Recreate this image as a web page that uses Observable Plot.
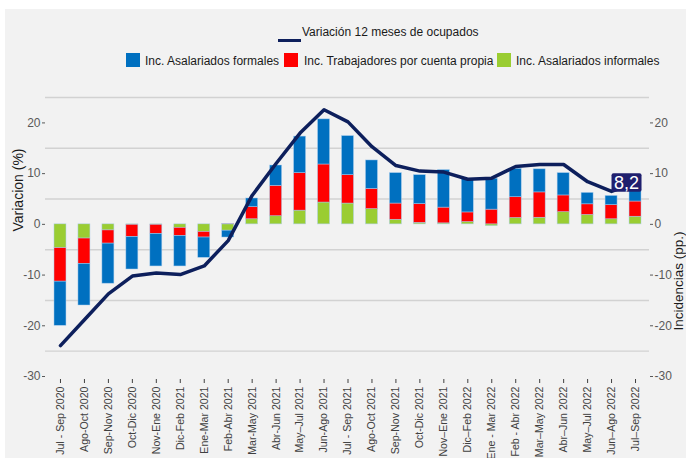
<!DOCTYPE html>
<html>
<head>
<meta charset="utf-8">
<script src="https://cdn.jsdelivr.net/npm/d3@7"></script>
<script src="https://cdn.jsdelivr.net/npm/@observablehq/plot@0.6"></script>
<style>
  html, body { margin: 0; padding: 0; background: #ffffff; }
  body { width: 686px; height: 458px; overflow: hidden; position: relative;
         font-family: "Liberation Sans", Arial, sans-serif; }
  #bg { position: absolute; left: 5px; top: 9px; right: 0; bottom: 0; background: #f2f2f2; }
  #legend { position: relative; height: 75px; font-size: 12px; color: #1a1a1a; }
  #legend .item { position: absolute; white-space: nowrap; line-height: 14px; }
  #legend .sw { position: absolute; }
  #chart { position: relative; }
</style>
</head>
<body>
<div id="bg"></div>
<div id="legend"></div>
<div id="chart"></div>
<script>
// ---- data ----
const categories = [
  "Jul - Sep 2020", "Ago-Oct 2020", "Sep-Nov 2020", "Oct-Dic 2020", "Nov-Ene 2020",
  "Dic-Feb 2021", "Ene-Mar 2021", "Feb-Abr 2021", "Mar-May 2021", "Abr-Jun 2021",
  "May\u2013Jul 2021", "Jun-Ago 2021", "Jul - Sep 2021", "Ago-Oct 2021", "Sep-Nov 2021",
  "Oct-Dic 2021", "Nov\u2013Ene 2021", "Dic\u2013Feb 2022", "Ene - Mar 2022", "Feb - Abr 2022",
  "Mar\u2013May 2022", "Abr\u2013Jun 2022", "May\u2013Jul 2022", "Jun\u2013Ago 2022", "Jul\u2013Sep 2022"
];
const informales = [-4.7, -2.8, -1.2, -0.1, -0.1, -0.7, -1.5, -1.25, 1.0, 1.6,
  2.7, 4.3, 4.1, 3.0, 0.9, 0.3, 0.2, 0.45, -0.35, 1.25, 1.3, 2.4, 1.85, 1.0, 1.5];
const cuentaPropia = [-6.6, -5.0, -2.6, -2.4, -1.8, -1.6, -1.1, 0.1, 2.4, 6.0,
  7.4, 7.5, 5.6, 4.0, 3.2, 3.7, 3.1, 1.9, 2.9, 4.1, 5.0, 3.3, 2.1, 2.8, 3.0];
const formales = [-8.7, -8.2, -7.9, -6.4, -6.4, -6.0, -4.0, -1.35, 1.7, 4.0,
  7.2, 8.9, 7.7, 5.6, 6.0, 5.7, 7.4, 6.6, 6.1, 5.6, 4.55, 4.4, 2.25, 1.8, 2.3];
const variacion = [-23.9, -18.8, -13.7, -10.2, -9.6, -9.9, -8.2, -3.2, 5.7, 12.0,
  18.0, 22.6, 20.2, 15.3, 11.6, 10.5, 10.3, 8.9, 9.1, 11.4, 11.8, 11.8, 8.4, 6.5, 8.2];
const seriesNames = ["Inc. Asalariados informales", "Inc. Trabajadores por cuenta propia", "Inc. Asalariados formales"];
const seriesColors = ["#9acd32", "#ff0000", "#0070c0"];
const lineName = "Variación 12 meses de ocupados";
const yTicks = [-30, -20, -10, 0, 10, 20];
const gridValues = [-25, -15, -5, 5, 15, 25];
const lastLabel = "8,2";

// ---- legend (HTML, above the SVG) ----
const legend = document.getElementById("legend");
legend.innerHTML = `
  <div class="sw" style="left:278px;top:39px;width:23px;height:2.5px;background:#0d1f5c"></div>
  <div class="item" style="left:302px;top:25px">${lineName}</div>
  <div class="sw" style="left:126px;top:53px;width:14px;height:14px;background:${seriesColors[2]}"></div>
  <div class="item" style="left:145px;top:54px">${seriesNames[2]}</div>
  <div class="sw" style="left:284px;top:53px;width:14px;height:14px;background:${seriesColors[1]}"></div>
  <div class="item" style="left:304px;top:54px">${seriesNames[1]}</div>
  <div class="sw" style="left:497px;top:53px;width:14px;height:14px;background:${seriesColors[0]}"></div>
  <div class="item" style="left:516px;top:54px">${seriesNames[0]}</div>
`;

// ---- tables ----
const barRows = [];
categories.forEach((c, i) => {
  barRows.push({cat: c, serie: seriesNames[0], value: informales[i]});
  barRows.push({cat: c, serie: seriesNames[1], value: cuentaPropia[i]});
  barRows.push({cat: c, serie: seriesNames[2], value: formales[i]});
});
const lineRows = categories.map((c, i) => ({cat: c, value: variacion[i]}));
const lastRow = [lineRows[lineRows.length - 1]];

const chart = Plot.plot({
  width: 686,
  height: 383,
  marginLeft: 45,
  marginRight: 37,
  marginTop: 8,
  marginBottom: 79,
  style: {background: "transparent", fontFamily: "'Liberation Sans', Arial, sans-serif", fontSize: "12px", overflow: "visible"},
  x: {domain: categories, paddingInner: 0.5, paddingOuter: 0.25, insetLeft: 3, insetRight: 2, round: false, label: null},
  y: {domain: [-30.59, 27.77], label: null},
  color: {domain: seriesNames, range: seriesColors},
  marks: [
    Plot.ruleY(gridValues, {stroke: "#d2d2d2", strokeWidth: 1.4}),
    Plot.barY(barRows, {x: "cat", y: "value", z: "serie", fill: "serie", stroke: "#a9cdee", strokeWidth: 0.6, strokeOpacity: 0.8}),
    Plot.line(lineRows, {x: "cat", y: "value", stroke: "#0d1f5c", strokeWidth: 3.5, strokeLinejoin: "round"}),
    Plot.text(lastRow, {x: "cat", y: "value", text: () => lastLabel, fill: "white", fontSize: 18, dx: -9, className: "vlabel"}),
    Plot.axisY({anchor: "left", ticks: yTicks, tickFormat: d => String(d), tickSize: 3, tickPadding: 2, line: true, label: null, color: "#595959", fontSize: 12}),
    Plot.axisY({anchor: "right", ticks: yTicks, tickFormat: d => String(d), tickSize: 3, tickPadding: 2, line: true, label: null, color: "#595959", fontSize: 12}),
    Plot.axisX({anchor: "bottom", tickRotate: -90, tickSize: 4, tickPadding: 3, line: true, label: null, color: "#404040", fontSize: 10.6}),
    Plot.text(["Variacion (%)"], {frameAnchor: "left", text: d => d, rotate: -90, dx: -27, fontSize: 14, fill: "#1a1a1a"}),
    Plot.text(["Incidencias (pp.)"], {frameAnchor: "right", text: d => d, rotate: -90, dx: 29, fontSize: 13.5, fill: "#1a1a1a"})
  ]
});
document.getElementById("chart").appendChild(chart);

// box behind the value label
const g = chart.querySelector("g.vlabel");
if (g) {
  const t = g.querySelector("text");
  const bb = t.getBBox();
  const cx = bb.x + bb.width / 2, cy = bb.y + bb.height / 2;
  const ns = "http://www.w3.org/2000/svg";
  const r = document.createElementNS(ns, "rect");
  r.setAttribute("x", cx - 15);
  r.setAttribute("y", cy - 9.2);
  r.setAttribute("width", 30);
  r.setAttribute("height", 18.4);
  r.setAttribute("rx", 2);
  r.setAttribute("fill", "#1f1f6e");
  const tr = t.getAttribute("transform");
  if (tr) r.setAttribute("transform", tr);
  g.insertBefore(r, g.firstChild);
}
</script>
</body>
</html>
